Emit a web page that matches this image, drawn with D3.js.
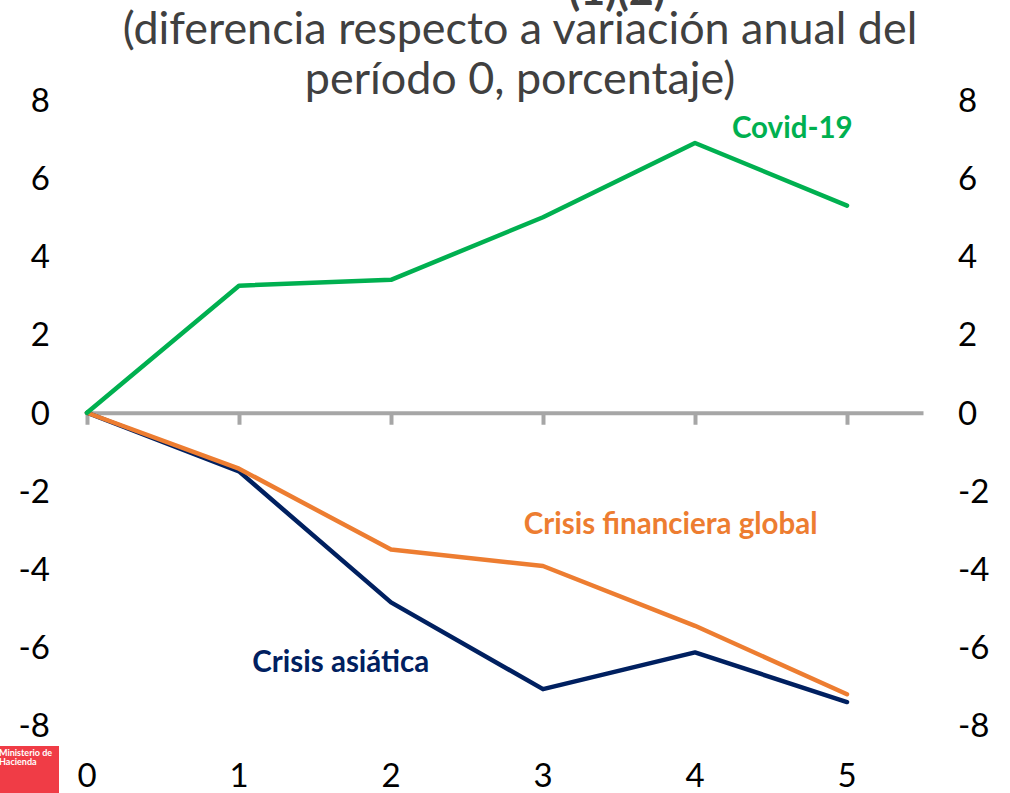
<!DOCTYPE html>
<html>
<head>
<meta charset="utf-8">
<script src="https://cdn.jsdelivr.net/npm/d3@7"></script>
<style>
  body { margin: 0; background: #fff; }
  svg { display: block; font-family: Lato, "Open Sans", sans-serif; }
</style>
</head>
<body>
<script>
const periods = [0, 1, 2, 3, 4, 5];
const covid = [0, 3.25, 3.4, 5.0, 6.9, 5.3];
const crisisGlobal = [0, -1.43, -3.5, -3.92, -5.45, -7.2];
const crisisAsia = [0, -1.5, -4.85, -7.07, -6.13, -7.4];
const yTicks = [8, 6, 4, 2, 0, -2, -4, -6, -8];
const seriesNames = ['Covid-19', 'Crisis financiera global', 'Crisis asiática'];
const titleLines = ['(diferencia respecto a variación anual del', 'período 0, porcentaje)'];

const width = 1010;
const height = 793;

const color = d3.scaleOrdinal()
    .domain(seriesNames)
    .range(['#00B050', '#ED7D31', '#002060']);

const x = d3.scaleLinear().domain([0, 5.5]).range([87, 923]);
const y = d3.scaleLinear().domain([-8, 8]).range([725.5, 100]);

const svg = d3.select('body').append('svg')
    .attr('width', width)
    .attr('height', height);

// bottom of the title line above, cut by the frame
svg.append('text')
    .attr('x', 617).attr('y', 5)
    .attr('text-anchor', 'middle')
    .style('font-size', '43px').style('font-weight', 'bold')
    .attr('fill', '#404040')
    .text('(1)(2)');

const title = svg.append('g');
titleLines.forEach((t, i) => {
    title.append('text')
        .attr('x', 520).attr('y', 44 + i * 50)
        .attr('text-anchor', 'middle')
        .attr('fill', '#404040')
        .style('font-size', '43px')
        .text(t);
});
// fit the first line to the reference width
const w0 = title.select('text').node().getComputedTextLength();
title.selectAll('text').style('font-size', `${43 * 795 / w0}px`);

// y tick labels, both sides
svg.append('g').selectAll('text').data(yTicks).enter().append('text')
    .attr('x', 50).attr('y', d => y(d))
    .attr('dy', '0.36em')
    .attr('text-anchor', 'end')
    .style('font-size', '33px')
    .text(d => d);

svg.append('g').selectAll('text').data(yTicks).enter().append('text')
    .attr('x', 958).attr('y', d => y(d))
    .attr('dy', '0.36em')
    .attr('text-anchor', 'start')
    .style('font-size', '33px')
    .text(d => d);

// x axis on zero
const xAxis = svg.append('g')
    .attr('transform', `translate(0,${y(0)})`)
    .call(d3.axisBottom(x).tickValues(periods).tickSize(12).tickSizeOuter(0).tickFormat(''));
xAxis.select('.domain').attr('stroke', '#A6A6A6').attr('stroke-width', 4);
xAxis.selectAll('.tick line').attr('stroke', '#A6A6A6').attr('stroke-width', 4);

svg.append('g').selectAll('text').data(periods).enter().append('text')
    .attr('x', d => x(d)).attr('y', 787)
    .attr('text-anchor', 'middle')
    .style('font-size', '33px')
    .text(d => d);

const line = d3.line()
    .x((d, i) => x(periods[i]))
    .y(d => y(d));

const series = [
    { name: seriesNames[0], values: covid },
    { name: seriesNames[1], values: crisisGlobal },
    { name: seriesNames[2], values: crisisAsia },
];

svg.append('g').selectAll('path').data(series.slice().reverse()).enter().append('path')
    .attr('d', d => line(d.values))
    .attr('fill', 'none')
    .attr('stroke', d => color(d.name))
    .attr('stroke-width', 4.5)
    .attr('stroke-linejoin', 'round')
    .attr('stroke-linecap', 'round');

// series labels
const labelAt = [[4.64, 7.02], [3.84, -3.11], [1.67, -6.62]];
svg.append('g').selectAll('text').data(series).enter().append('text')
    .attr('x', (d, i) => x(labelAt[i][0]))
    .attr('y', (d, i) => y(labelAt[i][1]))
    .attr('text-anchor', 'middle')
    .attr('fill', d => color(d.name))
    .style('font-size', '29.5px')
    .style('font-weight', 'bold')
    .text(d => d.name);

// logo
const logo = svg.append('g');
logo.append('rect')
    .attr('x', 0).attr('y', 746)
    .attr('width', 59).attr('height', 47)
    .attr('fill', '#F03C46');
logo.append('text')
    .attr('x', -1).attr('y', 756)
    .attr('fill', '#fff')
    .style('font-size', '9px').style('font-weight', 'bold')
    .text('Ministerio de');
logo.append('text')
    .attr('x', -1).attr('y', 765)
    .attr('fill', '#fff')
    .style('font-size', '9px').style('font-weight', 'bold')
    .text('Hacienda');
</script>
</body>
</html>
